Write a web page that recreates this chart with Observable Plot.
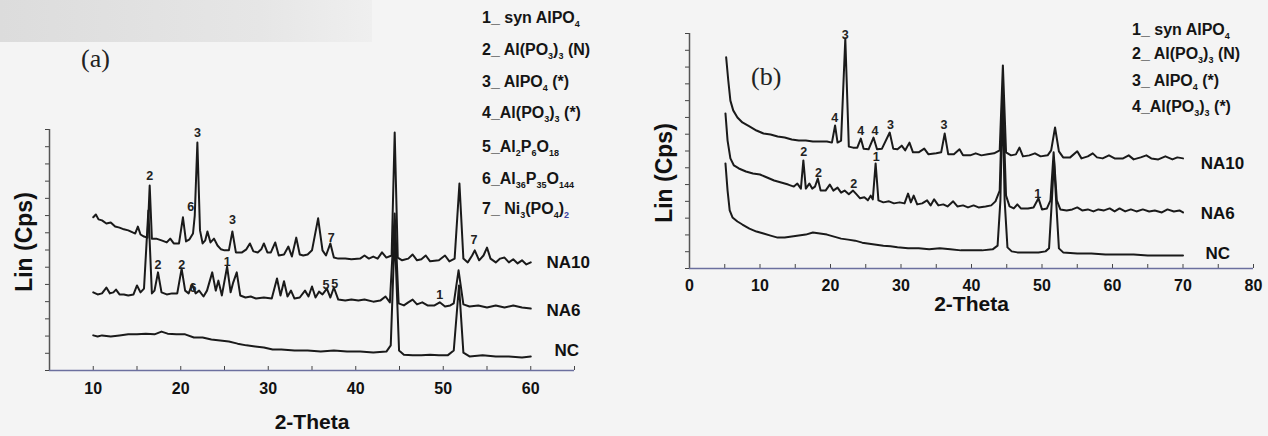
<!DOCTYPE html>
<html><head><meta charset="utf-8">
<script src="https://cdn.jsdelivr.net/npm/d3@7"></script>
<script src="https://cdn.jsdelivr.net/npm/@observablehq/plot@0.6"></script>
<style>
html,body{margin:0;padding:0;}
body{width:1268px;height:436px;overflow:hidden;background:#f4f4f4;position:relative;font-family:"Liberation Sans",Arial,sans-serif;color:#111;}
.scanband{position:absolute;left:0;top:0;width:372px;height:42px;background:linear-gradient(90deg,#dcdcdc,#e6e6e6 70%,#efefef);}
.panel{position:absolute;top:0;}
.leg{position:absolute;font-weight:bold;font-size:16px;line-height:18px;white-space:nowrap;color:#151515;}
.leg sub{font-size:9px;vertical-align:-4px;line-height:0;}
.leg sub.blue{color:#3b3fa0;}
.tag{position:absolute;font-family:"Liberation Serif","Times New Roman",serif;font-size:26px;color:#222;}
</style></head><body>
<div class="scanband"></div>
<div id="pa" class="panel" style="left:0px"></div>
<div id="pb" class="panel" style="left:640px"></div>
<div class="tag" style="left:81px;top:44px">(a)</div>
<div class="tag" style="left:751px;top:62px">(b)</div>
<div id="lega"></div>
<div id="legb"></div>
<script>
// ---------- Panel (a): 2-Theta vs intensity (arbitrary Lin (Cps) units) ----------
const a_NA10 = [[10,445],[10.3,453],[10.6,439],[11,436],[11.5,427],[12,430],[12.5,418],[13,415],[13.5,410],[14,407],[14.5,401],[14.8,398],[15.1,418],[15.4,395],[15.8,389],[16.2,386],[16.45,537],[16.7,383],[17.2,383],[17.8,378],[18.4,372],[18.8,383],[19.2,369],[19.8,369],[20.25,445],[20.6,375],[21,381],[21.4,398],[21.6,450],[21.9,662],[22.2,407],[22.5,369],[22.8,378],[23.05,404],[23.4,372],[23.8,383],[24.2,363],[24.6,352],[25,349],[25.5,349],[25.9,404],[26.3,343],[27,343],[27.5,352],[27.9,369],[28.3,346],[28.8,343],[29.2,352],[29.5,369],[29.9,343],[30.3,343],[30.8,372],[31.2,334],[31.8,337],[32.3,360],[32.7,331],[33.2,386],[33.6,337],[34,334],[34.5,337],[35,349],[35.7,442],[36.2,349],[36.6,334],[37.1,369],[37.5,328],[38,325],[38.8,325],[39.5,323],[40.5,325],[41,334],[41.5,325],[42,331],[42.5,325],[43,343],[43.5,328],[44.1,334],[44.45,691],[44.8,328],[45.3,320],[46,325],[46.5,337],[47,320],[47.5,323],[48,334],[48.5,317],[49.5,320],[50.2,334],[50.7,317],[51.3,325],[51.85,543],[52.3,325],[52.8,314],[53.3,334],[53.6,349],[54.1,320],[54.6,334],[55,357],[55.4,325],[56,314],[56.5,325],[57,328],[57.5,314],[58,323],[58.5,311],[59,320],[59.5,308],[60,314]];
const a_NA6 = [[10,227],[10.5,221],[11,224],[11.5,241],[11.9,224],[12.3,227],[12.6,235],[13,221],[13.5,221],[14,218],[14.6,221],[15,247],[15.4,227],[15.8,238],[16.3,465],[16.7,224],[17,232],[17.4,285],[17.8,227],[18.4,221],[19,224],[19.6,224],[20.1,296],[20.5,232],[20.9,224],[21.3,250],[21.7,224],[22.1,232],[22.6,215],[23,232],[23.6,285],[24,232],[24.3,261],[24.7,218],[25.3,302],[25.7,227],[26,256],[26.4,285],[26.8,218],[27.4,212],[28,215],[28.6,209],[29.5,212],[30.4,209],[31,267],[31.4,218],[31.8,259],[32.2,215],[32.6,232],[33,209],[33.6,212],[34.2,232],[34.6,215],[35,244],[35.4,212],[35.8,229],[36.2,221],[36.7,238],[37.1,212],[37.5,241],[38,206],[38.8,203],[39.5,206],[40.3,203],[41,206],[42,200],[42.8,203],[43.4,215],[43.9,198],[44.45,456],[44.9,195],[45.5,189],[46,198],[46.5,206],[47,192],[47.6,198],[48.2,189],[49,189],[49.6,198],[50.2,186],[50.8,189],[51.2,195],[51.75,291],[52.3,192],[53,186],[54,189],[55,183],[56,189],[57,183],[58,189],[59,183],[60,180]];
const a_NC = [[10,102],[10.5,99],[11,102],[12,99],[13,102],[14,105],[15,105],[16,107],[17,105],[17.8,113],[18.5,107],[19.5,105],[20.5,105],[21.5,96],[22.5,96],[23.5,90],[24.5,87],[25.5,84],[26.5,78],[27.5,73],[28.5,70],[29.5,67],[30.5,61],[31.5,61],[33,58],[34.5,58],[36,55],[37.5,58],[39,55],[40.5,55],[42,52],[43.5,55],[44,73],[44.45,400],[44.95,58],[45.5,46],[46.5,44],[47.5,44],[48.5,46],[49.5,44],[50.5,44],[51.2,58],[51.8,247],[52.3,52],[53,41],[54.5,44],[56,41],[57.5,41],[59,38],[60,41]];
const a_peakLabels = [[16.45,566,"2"],[21.15,474,"6"],[21.9,690,"3"],[25.9,436,"3"],[37.2,386,"7"],[53.5,380,"7"],[17.4,305,"2"],[20.1,305,"2"],[21.4,241,"6"],[25.3,314,"1"],[36.6,247,"5"],[37.6,250,"5"],[49.6,218,"1"]];
const a_curveLabels = [[61.8,314,"NA10"],[61.8,174,"NA6"],[62.7,58,"NC"]];
const a_xTicks = [5,10,15,20,25,30,35,40,45,50,55,60,65];
const a_xTickLabels = [10,20,30,40,50,60];
const a_legend = ["1_ syn AlPO<sub>4</sub>","2_ Al(PO<sub>3</sub>)<sub>3</sub> (N)","3_ AlPO<sub>4</sub> (*)","4_Al(PO<sub>3</sub>)<sub>3</sub> (*)","5_Al<sub>2</sub>P<sub>6</sub>O<sub>18</sub>","6_Al<sub>36</sub>P<sub>35</sub>O<sub>144</sub>","7_ Ni<sub>3</sub>(PO<sub>4</sub>)<sub class=\"blue\">2</sub>"];

// ---------- Panel (b) ----------
const b_NA10 = [[5.2,629],[5.5,560],[5.8,500],[6.2,471],[6.8,450],[7.5,435],[8.5,423],[9.5,411],[10.5,402],[11.5,399],[12.5,393],[13.5,390],[14.5,384],[15.5,381],[16.5,381],[17.5,378],[18.5,378],[19.5,378],[20.2,375],[20.65,426],[21,375],[21.5,381],[22.1,685],[22.6,363],[23.2,360],[23.8,360],[24.3,387],[24.7,357],[25.4,355],[26.1,390],[26.6,355],[27.3,357],[28.4,405],[28.9,357],[29.5,355],[30.1,366],[30.6,352],[31.2,375],[31.7,346],[32.5,346],[33.3,357],[33.9,340],[35,343],[35.7,346],[36.2,402],[36.7,340],[37.5,340],[38.3,355],[38.8,337],[39.8,337],[40.6,343],[41.4,337],[42.3,340],[43.2,343],[44,352],[44.45,605],[44.9,346],[45.6,337],[46.3,340],[46.8,360],[47.3,334],[48.2,337],[49,343],[49.8,334],[50.8,337],[51.3,352],[51.85,420],[52.4,349],[53,331],[54,331],[55,349],[55.6,328],[56.5,334],[57.2,343],[57.8,331],[58.6,328],[59.5,337],[60.3,328],[61.5,328],[62.3,337],[63,325],[64,331],[64.8,337],[65.5,328],[66.5,325],[67.5,334],[68.5,325],[69.2,331],[70,328]];
const b_NA6 = [[5.1,462],[5.4,381],[5.8,328],[6.3,307],[7,298],[8,289],[9,283],[10,280],[11,271],[12,262],[13,256],[14,250],[14.8,244],[15.3,253],[15.8,238],[16.15,322],[16.5,238],[17,253],[17.4,238],[17.8,244],[18.2,268],[18.6,232],[19.3,232],[19.9,250],[20.4,232],[21,241],[21.5,226],[22,232],[22.6,221],[23.2,232],[23.6,223],[24.2,209],[24.8,212],[25.3,203],[25.7,217],[26,206],[26.4,313],[26.8,203],[27.5,197],[28.3,200],[29,194],[29.8,197],[30.5,194],[31,223],[31.4,197],[31.8,217],[32.3,191],[33,194],[33.7,203],[34.2,188],[34.7,206],[35.3,188],[36,191],[36.6,185],[37.4,200],[38,185],[38.8,188],[39.5,182],[40.3,188],[41,182],[42,185],[42.8,188],[43.4,200],[44,232],[44.4,530],[44.9,217],[45.4,185],[46,179],[46.5,191],[47,179],[48,179],[48.8,182],[49.5,209],[50,176],[50.7,179],[51.2,203],[51.65,346],[52.1,203],[52.6,176],[53.5,173],[54.3,176],[55,182],[55.7,173],[56.5,176],[57.3,170],[58,176],[58.8,173],[59.6,179],[60.3,170],[61,179],[61.8,170],[62.6,176],[63.4,170],[64.3,176],[65.2,170],[66,173],[67,167],[67.8,176],[68.7,170],[69.5,173],[70,167]];
const b_NC = [[5.1,313],[5.4,232],[5.7,173],[6.1,152],[6.8,140],[7.5,131],[8.5,119],[9.5,110],[10.5,104],[11.5,98],[12.5,92],[13.5,92],[14.5,95],[15.5,98],[16.5,101],[17.5,107],[18.5,104],[19.5,101],[20.5,95],[21.5,89],[22.5,86],[23.5,83],[24.5,77],[25.5,74],[26.5,71],[27.5,68],[28.5,66],[29.5,63],[31,60],[32.5,60],[34,57],[35.5,60],[37,57],[38.5,54],[40,54],[41.5,54],[43,57],[43.7,68],[44.1,203],[44.4,515],[44.7,203],[45.1,63],[45.7,51],[46.5,48],[47.5,48],[48.5,48],[49.5,48],[50.5,51],[51,60],[51.4,203],[51.7,322],[52,203],[52.4,60],[53,48],[55,45],[57,45],[59,42],[61,42],[63,42],[65,39],[67,39],[69,39],[70,39]];
const b_peakLabels = [[20.6,447,"4"],[22.1,697,"3"],[24.3,411,"4"],[26.3,411,"4"],[28.5,426,"3"],[36.1,426,"3"],[16.2,346,"2"],[18.3,283,"2"],[23.3,253,"2"],[26.5,331,"1"],[49.4,223,"1"]];
const b_curveLabels = [[72.5,313,"NA10"],[72.5,164,"NA6"],[73.2,45,"NC"]];
const b_xTicks = [0,5,10,15,20,25,30,35,40,45,50,55,60,65,70,75,80];
const b_xTickLabels = [0,10,20,30,40,50,60,70,80];
const b_legend = ["1_ syn AlPO<sub>4</sub>","2_ Al(PO<sub>3</sub>)<sub>3</sub> (N)","3_ AlPO<sub>4</sub> (*)","4_Al(PO<sub>3</sub>)<sub>3</sub> (*)"];

const yTicks = d3.range(0, 701, 50);
const FONT = "'Liberation Sans', Arial, sans-serif";

function panel(opts) {
  const {series, peaks, labels, xDomain, xTicks, xTickLabels, margins, yTitleDy, xTitleDy, tickDy} = opts;
  const lineMarks = series.map(s => Plot.line(s, {x: d => d[0], y: d => d[1], stroke: "#1a1a1a", strokeWidth: 2, strokeLinejoin: "round"}));
  return Plot.plot({
    width: opts.width, height: 436,
    marginLeft: margins[0], marginRight: margins[1], marginTop: margins[2], marginBottom: margins[3],
    x: {domain: xDomain},
    y: {domain: [0, 700]},
    style: {background: "transparent", fontFamily: FONT, color: "#111", overflow: "visible"},
    marks: [
      Plot.axisY({ticks: yTicks, tickSize: 4, tickFormat: () => "", stroke: "#444", label: null}),
      Plot.axisX({ticks: xTicks, tickSize: -4, tickFormat: () => "", stroke: "#444", label: null}),
      Plot.text(xTickLabels, {x: d => d, text: d => String(d), frameAnchor: "bottom", lineAnchor: "middle", dy: tickDy, fontSize: 16, fontWeight: "bold", fill: "#111"}),
      Plot.ruleX([xDomain[0]], {stroke: "#555", strokeWidth: 1.5}),
      Plot.ruleY([0], {stroke: "#6b6f9e", strokeWidth: 1.5}),
      ...lineMarks,
      Plot.text(peaks, {x: d => d[0], y: d => d[1], text: d => d[2], fontSize: 12.5, fontWeight: "bold", fill: "#222"}),
      Plot.text(labels, {x: d => d[0], y: d => d[1], text: d => d[2], fontSize: 17, fontWeight: "bold", textAnchor: "start", fill: "#111"}),
      Plot.text(["2-Theta"], {frameAnchor: "bottom", text: d => d, textAnchor: "middle", lineAnchor: "middle", dy: xTitleDy, fontSize: 21, fontWeight: "bold", fill: "#111"}),
      Plot.text(["Lin (Cps)"], {frameAnchor: "left", text: d => d, textAnchor: "middle", lineAnchor: "middle", dx: -25, dy: yTitleDy, rotate: -90, fontSize: 23, fontWeight: "bold", fill: "#111"})
    ]
  });
}

document.getElementById("pa").append(panel({
  width: 640, series: [a_NC, a_NA6, a_NA10], peaks: a_peakLabels, labels: a_curveLabels,
  xDomain: [5, 65], xTicks: a_xTicks, xTickLabels: a_xTickLabels,
  margins: [49, 66, 129, 66], yTitleDy: -8, xTitleDy: 52, tickDy: 18
}));
document.getElementById("pb").append(panel({
  width: 628, series: [b_NC, b_NA6, b_NA10], peaks: b_peakLabels, labels: b_curveLabels,
  xDomain: [0, 80], xTicks: b_xTicks, xTickLabels: b_xTickLabels,
  margins: [49, 15, 33, 168], yTitleDy: 22, xTitleDy: 36, tickDy: 17
}));

function legend(id, items, left, tops) {
  const root = document.getElementById(id);
  items.forEach((html, i) => {
    const d = document.createElement("div");
    d.className = "leg";
    d.style.left = left + "px";
    d.style.top = (tops[i] - 9) + "px";
    d.innerHTML = html;
    root.append(d);
  });
}
legend("lega", a_legend, 482, [18, 50, 82, 113, 147, 179, 209]);
legend("legb", b_legend, 1132, [30, 54, 81, 107]);
</script>
</body></html>
